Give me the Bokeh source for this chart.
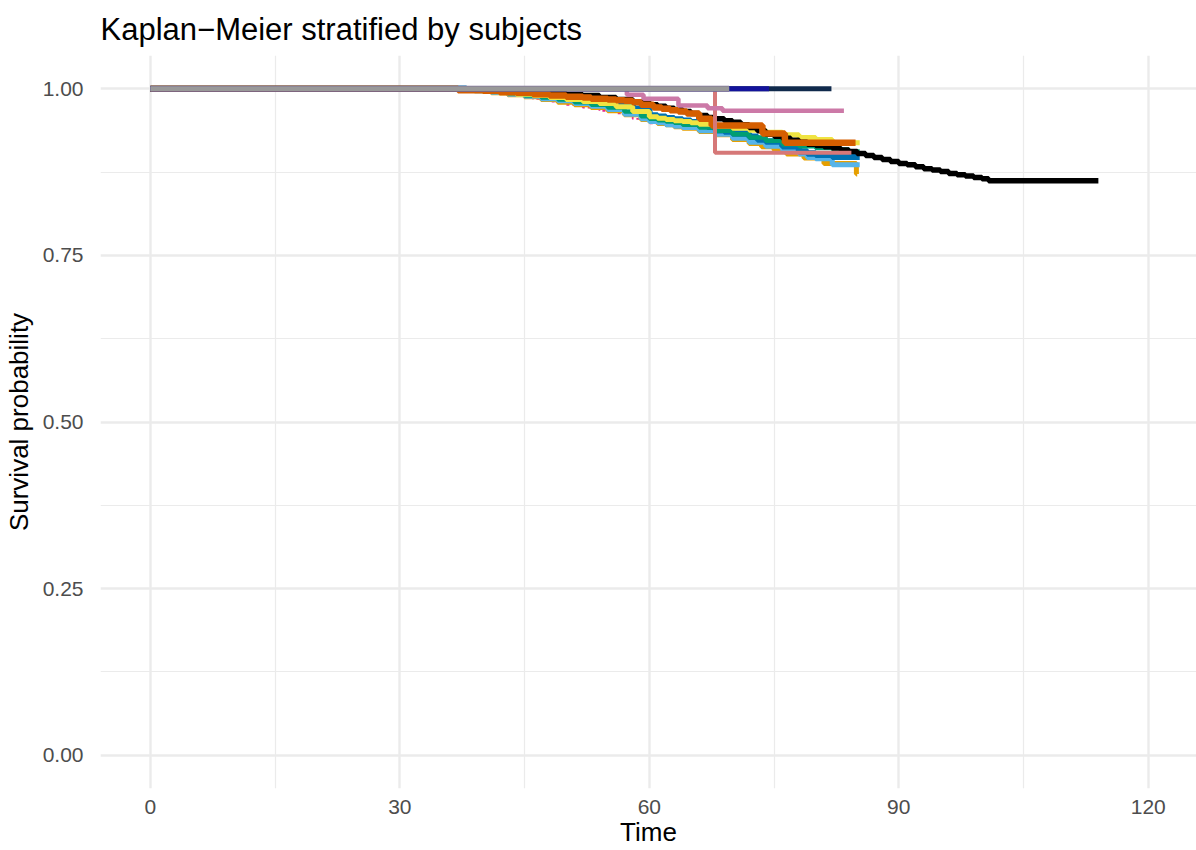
from bokeh.plotting import figure
from bokeh.models import Range1d, FixedTicker
from bokeh.embed import file_html
from bokeh.resources import INLINE

# Kaplan-Meier step curves, one per stratum (time, survival probability)
overall_time = [0, 38, 40, 42, 44, 46, 48, 50, 52, 54, 56, 58, 60, 61, 62, 63, 64, 65, 66, 67, 68, 69, 70,
                71, 72, 73, 74, 75, 76, 77, 78, 79, 80, 81, 82, 83, 84, 85, 86, 87, 88, 89, 90, 91, 92, 93,
                94, 95, 96, 97, 98, 99, 100, 100.8, 114]
overall_surv = [1, .999, .998, .997, .996, .995, .993, .991, .99, .987, .984, .98, .976, .974, .971, .969, .966,
                .963, .96, .957, .955, .952, .95, .946, .942, .937, .932, .929, .926, .923, .92, .917, .915,
                .913, .911, .908, .906, .903, .9, .897, .894, .891, .888, .886, .883, .88, .878, .876, .873,
                .871, .869, .867, .865, .862, .862]

dashed_time = [0, 38, 40, 42, 44, 46, 48, 50, 52, 54, 56, 58, 60, 62, 64, 66, 67]
dashed_surv = [1, .999, .997, .994, .99, .985, .981, .976, .972, .967, .963, .955, .948, .944, .94, .935, .935]

orange_time = [0, 39, 41, 43, 45, 47, 49, 51, 53, 55, 57, 59, 60, 61, 62, 63, 64, 66, 68, 70, 72, 73.5, 75,
               76.5, 78.6, 81, 84.9, 85]
orange_surv = [1, .997, .994, .991, .988, .984, .98, .976, .972, .967, .961, .954, .951, .948, .946, .943, .941,
               .936, .931, .924, .918, .913, .908, .902, .896, .888, .872, .872]

skyblue_time = [0, 39, 41, 43, 45, 47, 49, 51, 53, 55, 57, 59, 60, 61, 62, 63, 64, 66, 68, 70, 72, 74, 76, 78,
                79, 80, 82, 85.3]
skyblue_surv = [1, .997, .995, .992, .989, .985, .982, .978, .974, .969, .962, .955, .951, .949, .946, .944, .942,
                .937, .932, .926, .92, .914, .908, .902, .897, .895, .886, .886]

blue_time = [0, 38, 40, 42, 44, 46, 48, 50, 52, 54, 56, 58, 60, 61, 62, 63, 64, 65, 66, 67, 68, 69, 70, 72, 73,
             74, 76, 78, 79, 80, 82, 85.3]
blue_surv = [1, .999, .998, .996, .995, .994, .992, .988, .985, .982, .978, .97, .96, .958, .956, .954, .952, .95,
             .947, .943, .938, .936, .933, .928, .924, .921, .914, .906, .903, .901, .898, .898]

green_time = [0, 39, 41, 43, 45, 47, 49, 51, 53, 55, 57, 59, 60, 61, 62, 63, 64, 66, 68, 70, 72, 74, 76, 78, 80,
              82, 84, 85.3]
green_surv = [1, .998, .996, .993, .99, .987, .984, .98, .976, .972, .966, .959, .955, .953, .951, .949, .946,
              .942, .937, .932, .927, .922, .917, .914, .911, .909, .906, .906]

yellow_time = [0, 38, 40, 42, 44, 46, 48, 50, 52, 54, 56, 58, 60, 61, 62, 63, 64, 65, 66, 68, 70, 72, 74, 76, 78,
               80, 82, 85.3]
yellow_surv = [1, .998, .996, .994, .992, .99, .987, .984, .981, .978, .973, .966, .958, .956, .954, .952, .951,
               .949, .947, .944, .941, .938, .935, .931, .927, .924, .919, .919]

vermillion_time = [0, 37, 40, 42, 44, 46, 48, 50, 52, 53, 55, 56, 57, 58, 59, 60.5, 61.5, 62.5, 63.5, 64.5, 66,
                   67.5, 73.6, 76.3, 84.8]
vermillion_surv = [1, .998, .997, .995, .994, .992, .99, .988, .987, .985, .984, .983, .982, .98, .976, .972, .97,
                   .968, .966, .963, .955, .945, .933, .919, .919]

rose_time = [0, 67.9, 84.3]
rose_surv = [1, 0.904, 0.904]

pink_time = [0, 57.3, 59.3, 63.5, 67, 68.8, 83.4]
pink_surv = [1, 0.991, 0.985, 0.975, 0.971, 0.967, 0.967]

darknavy_time = [0, 81.9]
darknavy_surv = [1, 1]

navy_time = [0, 74.4]
navy_surv = [1, 1]

gray_time = [0, 69.6]
gray_surv = [1, 1]

x_ticks = [0, 30, 60, 90, 120]
x_minor = [15, 45, 75, 105]
y_ticks = [0, 0.25, 0.5, 0.75, 1.0]
y_minor = [0.125, 0.375, 0.625, 0.875]
y_tick_labels = ["0.00", "0.25", "0.50", "0.75", "1.00"]

FONT = "Liberation Sans"

p = figure(width=1196, height=850, output_backend="svg", toolbar_location=None,
           x_range=Range1d(-6, 125.8), y_range=Range1d(-0.05, 1.05),
           min_border_left=99, min_border_right=0, min_border_top=55, min_border_bottom=62,
           background_fill_color="white", border_fill_color="white")
p.outline_line_color = None

p.title.text = "Kaplan\u2212Meier stratified by subjects"
p.title.text_font = FONT
p.title.text_font_size = "31px"
p.title.text_font_style = "normal"
p.title.text_color = "black"
p.title.align = "left"
p.title.standoff = 18

for ax in (p.xaxis[0], p.yaxis[0]):
    ax.axis_line_color = None
    ax.major_tick_line_color = None
    ax.minor_tick_line_color = None
    ax.major_label_text_font = FONT
    ax.major_label_text_font_size = "21px"
    ax.major_label_text_color = "#4D4D4D"
    ax.axis_label_text_font = FONT
    ax.axis_label_text_font_size = "26px"
    ax.axis_label_text_font_style = "normal"
    ax.axis_label_text_color = "black"

p.xaxis.ticker = FixedTicker(ticks=x_ticks, minor_ticks=x_minor)
p.yaxis.ticker = FixedTicker(ticks=y_ticks, minor_ticks=y_minor)
p.yaxis.major_label_overrides = {v: s for v, s in zip(y_ticks, y_tick_labels)}
p.xaxis.axis_label = "Time"
p.yaxis.axis_label = "Survival probability"
p.xaxis.major_label_standoff = 5
p.yaxis.major_label_standoff = 11
p.xaxis.axis_label_standoff = 0
p.yaxis.axis_label_standoff = 6

for g in (p.xgrid[0], p.ygrid[0]):
    g.grid_line_color = "#EBEBEB"
    g.grid_line_width = 2.4
    g.minor_grid_line_color = "#EBEBEB"
    g.minor_grid_line_width = 1.2

curves = [
    (dashed_time, dashed_surv, "#E7298A", 1.8, "3 3"),
    (orange_time, orange_surv, "#E69F00", 5.0, "solid"),
    (skyblue_time, skyblue_surv, "#56B4E9", 5.0, "solid"),
    (blue_time, blue_surv, "#0072B2", 6.5, "solid"),
    (green_time, green_surv, "#009E73", 4.5, "solid"),
    (yellow_time, yellow_surv, "#F0E442", 5.0, "solid"),
    (overall_time, overall_surv, "#000000", 5.5, "solid"),
    (vermillion_time, vermillion_surv, "#D55E00", 6.5, "solid"),
    (rose_time, rose_surv, "#D67878", 4.0, "solid"),
    (pink_time, pink_surv, "#CC79A7", 4.5, "solid"),
    (darknavy_time, darknavy_surv, "#102A4C", 5.0, "solid"),
    (navy_time, navy_surv, "#13139B", 5.0, "solid"),
]
for t, s, c, w, d in curves:
    p.step(t, s, mode="after", line_color=c, line_width=w, line_dash=d)

# top line: a violet edge under the grey stratum
p.step(gray_time, gray_surv, mode="after", line_color="#7F7297", line_width=6)
p.step(gray_time, gray_surv, mode="after", line_color="#999999", line_width=4.5)

open("out.html", "w").write(file_html(p, INLINE))
